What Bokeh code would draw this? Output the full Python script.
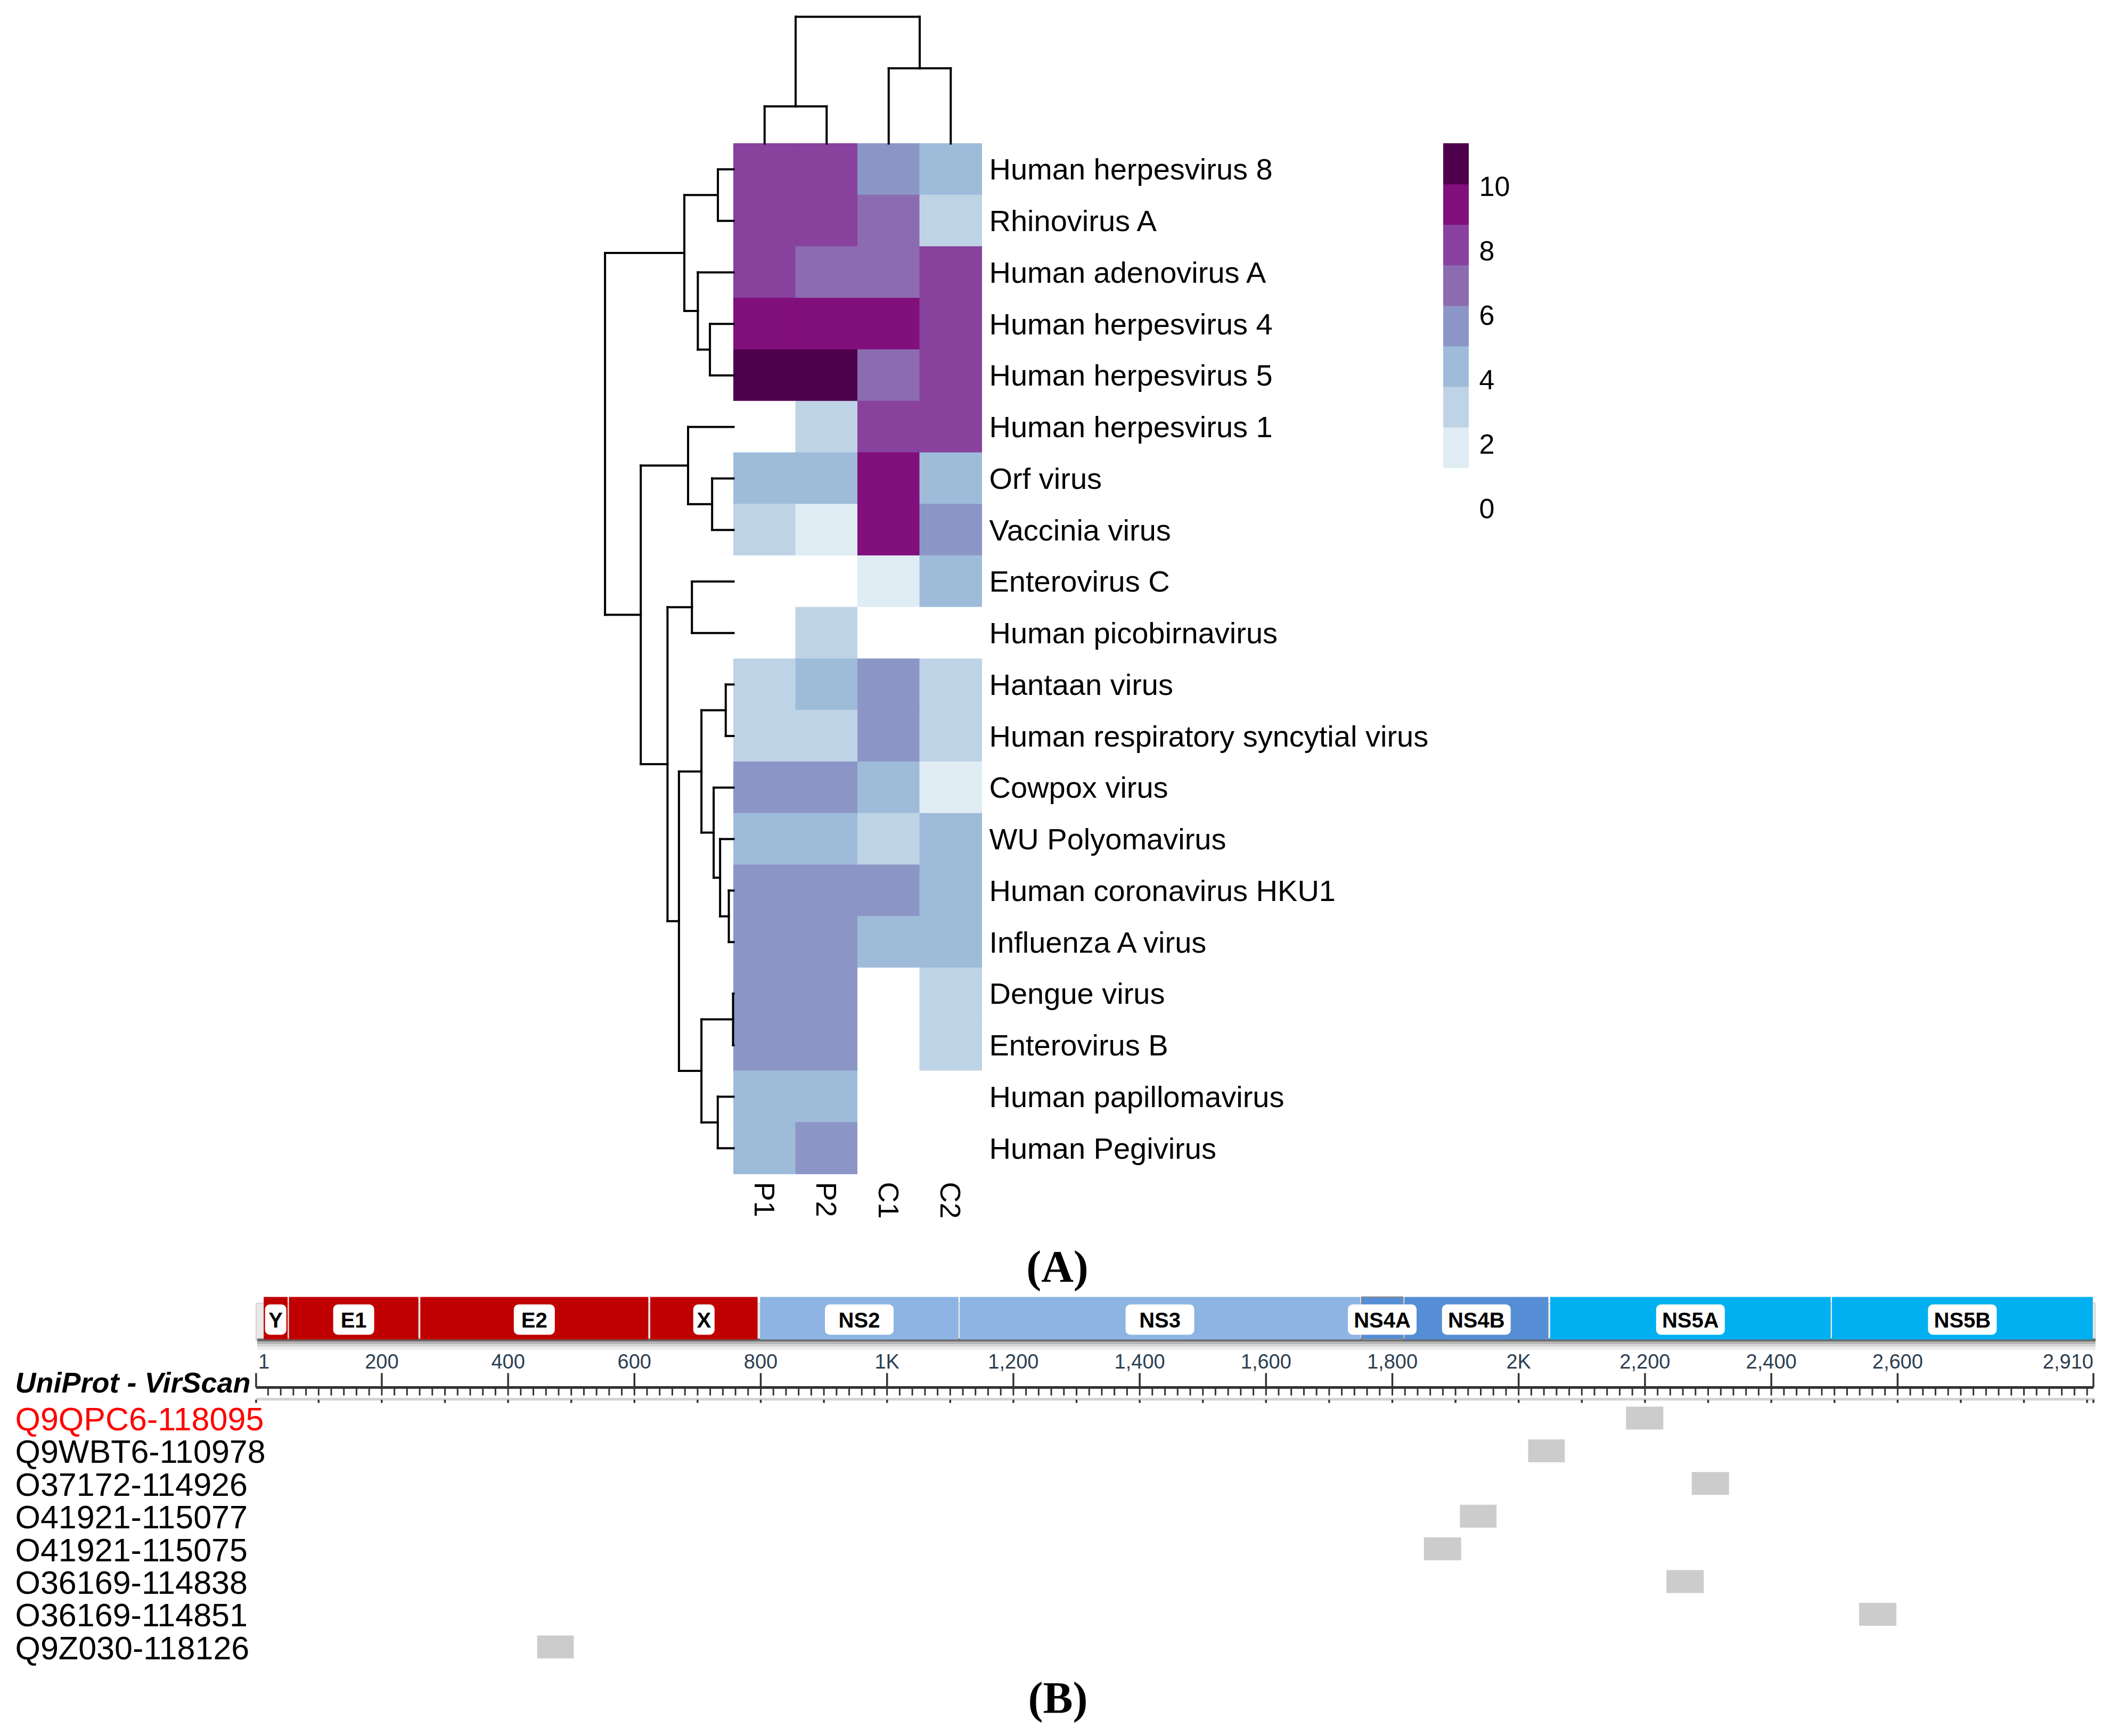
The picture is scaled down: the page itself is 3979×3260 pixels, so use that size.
import numpy as np
from bokeh.plotting import figure
from bokeh.models import Range1d, ColumnDataSource
from bokeh.core.properties import value
from bokeh.embed import file_html
from bokeh.resources import INLINE
from bokeh.palettes import BuPu9
from bokeh.transform import linear_cmap

# ---------------- Panel A data ----------------
viruses = ["Human herpesvirus 8", "Rhinovirus A", "Human adenovirus A", "Human herpesvirus 4",
           "Human herpesvirus 5", "Human herpesvirus 1", "Orf virus", "Vaccinia virus",
           "Enterovirus C", "Human picobirnavirus", "Hantaan virus",
           "Human respiratory syncytial virus", "Cowpox virus", "WU Polyomavirus",
           "Human coronavirus HKU1", "Influenza A virus", "Dengue virus", "Enterovirus B",
           "Human papillomavirus", "Human Pegivirus"]
samples = ["P1", "P2", "C1", "C2"]
P1 = [8.2, 8.2, 8.2, 9.5, 10.7, 0, 4.5, 3.0, 0, 0, 3.0, 3.0, 5.7, 4.5, 5.7, 5.7, 5.7, 5.7, 4.5, 4.5]
P2 = [8.2, 8.2, 7.0, 9.5, 10.7, 3.0, 4.5, 2.0, 0, 3.0, 4.5, 3.0, 5.7, 4.5, 5.7, 5.7, 5.7, 5.7, 4.5, 5.7]
C1 = [5.7, 7.0, 7.0, 9.5, 7.0, 8.2, 9.5, 9.5, 2.0, 0, 5.7, 5.7, 4.5, 3.0, 5.7, 4.5, 0, 0, 0, 0]
C2 = [4.5, 3.0, 8.2, 8.2, 8.2, 8.2, 4.5, 5.7, 4.5, 0, 3.0, 3.0, 2.0, 4.5, 4.5, 4.5, 3.0, 3.0, 0, 0]

# row dendrogram (linkage: leaves 0..19, merged clusters numbered 20..)
row_merge_a = [0, 3, 2, 20, 6, 5, 8, 10, 14, 13, 12, 27, 16, 18, 32, 31, 26, 25, 23]
row_merge_b = [1, 4, 21, 22, 7, 24, 9, 11, 15, 28, 29, 30, 17, 19, 33, 34, 35, 36, 37]
row_merge_h = [1.22, 1.84, 2.78, 3.83, 1.67, 3.54, 3.24, 0.61, 0.37, 1.05, 1.55, 2.50,
               0.04, 1.23, 2.50, 4.25, 5.14, 7.22, 10.0]
# column dendrogram (leaves 0..3, clusters 4..)
col_merge_a = [0, 2, 4]
col_merge_b = [1, 3, 5]
col_merge_h = [2.93, 5.94, 10.0]

scale_max = 11.34
scale_ticks = [0, 2, 4, 6, 8, 10]

# ---------------- Panel B data ----------------
protein_length = 2910
domain_names = ["Y", "E1", "E2", "X", "NS2", "NS3", "NS4A", "NS4B", "NS5A", "NS5B"]
domain_start = [13, 53, 261, 625, 799, 1115, 1751, 1819, 2050, 2496]
domain_end = [51, 258, 622, 795, 1113, 1749, 1817, 2047, 2494, 2909]
ruler_ticks = [1, 200, 400, 600, 800, 1000, 1200, 1400, 1600, 1800, 2000, 2200, 2400, 2600, 2910]
ruler_labels = ["1", "200", "400", "600", "800", "1K", "1,200", "1,400", "1,600", "1,800",
                "2K", "2,200", "2,400", "2,600", "2,910"]
peptide_ids = ["Q9QPC6-118095", "Q9WBT6-110978", "O37172-114926", "O41921-115077",
               "O41921-115075", "O36169-114838", "O36169-114851", "Q9Z030-118126"]
peptide_start = [2170, 2015, 2274, 1907, 1850, 2234, 2539, 446]
peptide_end = [2229, 2073, 2333, 1965, 1909, 2293, 2598, 504]
peptide_highlight = [True, False, False, False, False, False, False, False]

# ---------------- styles / layout ----------------
SANS = value("Liberation Sans")
SERIF = value("Liberation Serif")
domain_color = {"Y": "#C00000", "E1": "#C00000", "E2": "#C00000", "X": "#C00000",
                "NS2": "#8DB4E2", "NS3": "#8DB4E2", "NS4A": "#558ED5", "NS4B": "#558ED5",
                "NS5A": "#00B0F0", "NS5B": "#00B0F0"}

HX0, CW = 1377.0, 116.5      # heatmap left, column width
HY0, RH = 269.0, 96.75       # heatmap top, row height
ROW_DS, COL_DS = 24.14, 23.8  # dendrogram px per unit height

p = figure(width=3963, height=3244, x_range=Range1d(0, 3963), y_range=Range1d(3244, 0),
           output_backend="svg", toolbar_location=None, min_border=0,
           x_axis_location=None, y_axis_location=None)
p.grid.visible = False
p.outline_line_color = None
p.background_fill_color = "white"
p.border_fill_color = "white"

# ---------------- heatmap ----------------
cols = [P1, P2, C1, C2]
L, R, T, B, V = [], [], [], [], []
for i in range(len(viruses)):
    for j, arr in enumerate(cols):
        L.append(HX0 + CW * j); R.append(HX0 + CW * (j + 1))
        T.append(HY0 + RH * i); B.append(HY0 + RH * (i + 1)); V.append(arr[i])
pal = ["#FFFFFF"] + list(BuPu9[::-1])[1:]
cmap = linear_cmap("v", palette=pal, low=0, high=scale_max)
p.quad(source=ColumnDataSource(dict(left=L, right=R, top=T, bottom=B, v=V)),
       left="left", right="right", top="top", bottom="bottom",
       fill_color=cmap, line_color=cmap, line_width=1)

# row labels
row_cy = [HY0 + RH * (i + 0.5) for i in range(len(viruses))]
p.text(x=[1857] * len(viruses), y=row_cy, text=viruses,
       text_font=SANS, text_font_size=value("56px"), text_baseline="middle",
       text_align="left", text_color="black")
# column labels
col_cx = [HX0 + CW * (j + 0.5) for j in range(len(samples))]
p.text(x=col_cx, y=[2219] * 4, text=samples, angle=-np.pi / 2,
       text_font=SANS, text_font_size=value("54px"), text_baseline="middle",
       text_align="left", text_color="black")

# ---------------- dendrograms ----------------
x0s, y0s, x1s, y1s = [], [], [], []
pos = {i: (row_cy[i], HX0) for i in range(len(viruses))}
for k, (a, b, h) in enumerate(zip(row_merge_a, row_merge_b, row_merge_h)):
    ya, xa = pos[a]; yb, xb = pos[b]
    xn = HX0 - h * ROW_DS
    x0s += [xn, xn, xn]; y0s += [ya, ya, yb]; x1s += [xn, xa, xb]; y1s += [yb, ya, yb]
    pos[len(viruses) + k] = ((ya + yb) / 2, xn)
cpos = {j: (col_cx[j], HY0) for j in range(len(samples))}
for k, (a, b, h) in enumerate(zip(col_merge_a, col_merge_b, col_merge_h)):
    xa, ya = cpos[a]; xb, yb = cpos[b]
    yn = HY0 - h * COL_DS
    x0s += [xa, xa, xb]; y0s += [yn, yn, yn]; x1s += [xb, xa, xb]; y1s += [yn, ya, yb]
    cpos[len(samples) + k] = ((xa + xb) / 2, yn)
p.segment(x0=x0s, y0=y0s, x1=x1s, y1=y1s, line_color="black", line_width=4,
          line_cap="square")

# ---------------- colour bar ----------------
CB_X0, CB_X1, CB_Y0 = 2710, 2757, 954.0
CB_PX = (CB_Y0 - HY0) / scale_max
def cy(v):
    return CB_Y0 - v * CB_PX
nb = len(pal)
p.quad(left=[CB_X0] * nb, right=[CB_X1] * nb,
       bottom=[cy(k * scale_max / nb) for k in range(nb)],
       top=[cy((k + 1) * scale_max / nb) for k in range(nb)],
       fill_color=pal, line_color=pal, line_width=1)
p.text(x=[2777] * len(scale_ticks), y=[cy(t) for t in scale_ticks],
       text=[str(t) for t in scale_ticks], text_font=SANS, text_font_size=value("52px"),
       text_baseline="middle", text_align="left", text_color="black")

# panel letters
p.text(x=[1985, 1986], y=[2378, 3188], text=["(A)", "(B)"], text_font=SERIF,
       text_font_size=value("84px"), text_font_style="bold", text_baseline="middle",
       text_align="center", text_color="black")

# ---------------- Panel B ----------------
AX0, APX = 479.2, 1.186
def ax(a):
    return AX0 + APX * a

# background protein box + shadow
p.quad(left=[ax(1)], right=[ax(protein_length) + 3], top=[2447], bottom=[2516],
       fill_color="#E9E9E9", line_color="#D0D0D0", line_width=2)
p.quad(left=[ax(1) + 2] * 4, right=[ax(protein_length) + 4] * 4,
       top=[2513, 2519, 2524, 2529], bottom=[2519, 2524, 2529, 2535],
       fill_color=["#6B6B6B", "#B5B5B5", "#D6D6D6", "#EEEEEE"], line_color=None)

# domains
dl = [ax(s) for s in domain_start]
dr = [ax(e) for e in domain_end]
dcol = [domain_color[n] for n in domain_names]
p.quad(left=dl, right=dr, top=[2435] * len(dl), bottom=[2515] * len(dl),
       fill_color=dcol, line_color=None)
ns4a = domain_names.index("NS4A")
p.quad(left=[dl[ns4a]], right=[dr[ns4a]], top=[2435], bottom=[2515],
       fill_color=None, line_color="#8A8A8A", line_width=2)
# label boxes
dcx = [(a + b) / 2 for a, b in zip(dl, dr)]
bw = [40 if len(n) == 1 else (77 if len(n) == 2 else 129) for n in domain_names]
p.quad(left=[c - w / 2 for c, w in zip(dcx, bw)], right=[c + w / 2 for c, w in zip(dcx, bw)],
       top=[2449] * len(dcx), bottom=[2506] * len(dcx), fill_color="white",
       line_color=None, border_radius=9)
p.text(x=dcx, y=[2478] * len(dcx), text=domain_names, text_font=SANS,
       text_font_size=value("40px"), text_font_style="bold", text_baseline="middle",
       text_align="center", text_color="black")

# ruler
RY = 2605
p.segment(x0=[ax(1)], y0=[RY], x1=[ax(protein_length)], y1=[RY], line_color="#333333",
          line_width=5)
p.segment(x0=[ax(1)], y0=[2627], x1=[ax(protein_length) + 3], y1=[2627],
          line_color="#D3D3D3", line_width=5)
minor = list(range(20, protein_length, 20))
p.segment(x0=[ax(m) for m in minor], y0=[RY] * len(minor), x1=[ax(m) for m in minor],
          y1=[2620] * len(minor), line_color="#333333", line_width=3)
lower = [1] + list(range(100, protein_length, 100)) + [protein_length]
p.segment(x0=[ax(m) for m in lower], y0=[2628] * len(lower), x1=[ax(m) for m in lower],
          y1=[2634] * len(lower), line_color="#333333", line_width=3.5)
p.segment(x0=[ax(t) for t in ruler_ticks], y0=[2578] * len(ruler_ticks),
          x1=[ax(t) for t in ruler_ticks], y1=[RY] * len(ruler_ticks),
          line_color="#333333", line_width=3.5)
align = ["left"] + ["center"] * (len(ruler_ticks) - 2) + ["right"]
p.text(x=[ax(t) + (4 if a == "left" else 0) for t, a in zip(ruler_ticks, align)],
       y=[2556] * len(ruler_ticks), text=ruler_labels, text_align=align,
       text_font=SANS, text_font_size=value("38px"), text_baseline="middle",
       text_color="#2C3E50")

p.text(x=[28], y=[2595], text=["UniProt - VirScan"], text_font=SANS,
       text_font_size=value("54px"), text_font_style="bold italic",
       text_baseline="middle", text_align="left", text_color="black")

# peptide rows
row_c = [2664.5 + 61.4 * i for i in range(len(peptide_ids))]
p.text(x=[28] * len(peptide_ids), y=row_c, text=peptide_ids, text_font=SANS,
       text_font_size=value("61px"), text_baseline="middle", text_align="left",
       text_color=["#FF0000" if h else "black" for h in peptide_highlight])
p.quad(left=[ax(s) for s in peptide_start], right=[ax(e) for e in peptide_end],
       top=[c - 2 - 21.5 for c in row_c], bottom=[c - 2 + 21.5 for c in row_c],
       fill_color="#CCCCCC", line_color=None)

open("out.html", "w").write(file_html(p, INLINE))
